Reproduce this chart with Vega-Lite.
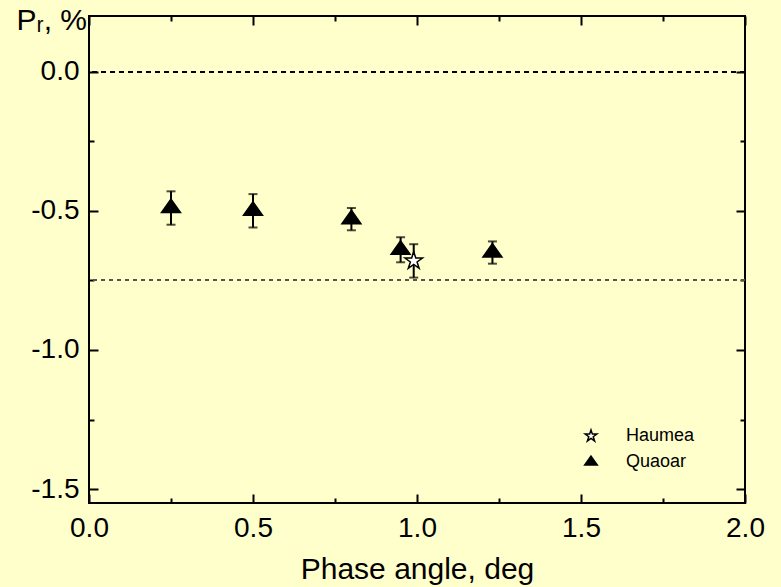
{
  "$schema": "https://vega.github.io/schema/vega-lite/v6.json",
  "width": 656,
  "height": 487,
  "autosize": {"type": "none"},
  "padding": {"left": 89, "top": 16, "right": 36, "bottom": 84},
  "background": "#FFFFCC",
  "config": {
    "font": "Liberation Sans",
    "view": {"stroke": "black", "strokeWidth": 2},
    "axis": {
      "grid": false,
      "domain": false,
      "labelFlush": false,
      "tickColor": "black",
      "tickWidth": 2,
      "labelColor": "black",
      "labelFont": "Liberation Sans",
      "labelFontSize": 28,
      "titleColor": "black",
      "titleFont": "Liberation Sans",
      "titleFontSize": 30,
      "titleFontWeight": "normal"
    },
    "legend": {
      "title": null,
      "orient": "none",
      "legendX": 493,
      "legendY": 411,
      "padding": 0,
      "labelFontSize": 18,
      "labelColor": "black",
      "labelFont": "Liberation Sans",
      "labelOffset": 26,
      "rowPadding": 8,
      "symbolSize": 150,
      "symbolStrokeWidth": 1.5
    }
  },
  "datasets": {
    "polarization": [
      {"body": "Quaoar", "phase": 0.25, "p": -0.49, "lo": -0.55, "hi": -0.43},
      {"body": "Quaoar", "phase": 0.50, "p": -0.50, "lo": -0.56, "hi": -0.44},
      {"body": "Quaoar", "phase": 0.80, "p": -0.53, "lo": -0.57, "hi": -0.49},
      {"body": "Quaoar", "phase": 0.95, "p": -0.64, "lo": -0.685, "hi": -0.595},
      {"body": "Quaoar", "phase": 1.23, "p": -0.65, "lo": -0.69, "hi": -0.61},
      {"body": "Haumea", "phase": 0.99, "p": -0.68, "lo": -0.74, "hi": -0.62}
    ]
  },
  "data": {"name": "polarization"},
  "resolve": {"axis": {"x": "independent", "y": "independent"}},
  "layer": [
    {
      "mark": {"type": "rule", "color": "black", "strokeWidth": 1.5, "strokeDash": [5, 4]},
      "encoding": {"y": {"datum": 0, "type": "quantitative", "axis": null}}
    },
    {
      "mark": {"type": "rule", "color": "#555555", "strokeWidth": 1.5, "strokeDash": [4, 4]},
      "encoding": {"y": {"datum": -0.75, "type": "quantitative", "axis": null}}
    },
    {
      "mark": {"type": "rule", "color": "black", "strokeWidth": 2},
      "encoding": {
        "x": {
          "field": "phase", "type": "quantitative",
          "scale": {"domain": [0, 2], "nice": false, "zero": false},
          "axis": {
            "orient": "bottom", "title": "Phase angle, deg",
            "values": [0, 0.5, 1, 1.5, 2], "format": ".1f",
            "offset": -9, "tickSize": 9, "labelPadding": 11, "titlePadding": 12
          }
        },
        "y": {
          "field": "lo", "type": "quantitative",
          "scale": {"domain": [-1.55, 0.2], "nice": false, "zero": false},
          "axis": {
            "orient": "left", "title": "P\u1d63, %",
            "values": [-1.5, -1, -0.5, 0],
            "labelExpr": "replace(format(datum.value, '.1f'), '\u2212', '-')",
            "offset": -9, "tickSize": 9, "labelPadding": 10,
            "titleAngle": 0, "titleAlign": "left", "titleBaseline": "alphabetic",
            "titleX": -82, "titleY": 13
          }
        },
        "y2": {"field": "hi"}
      }
    },
    {
      "mark": {"type": "tick", "orient": "horizontal", "color": "black", "size": 9, "thickness": 2},
      "encoding": {
        "x": {
          "field": "phase", "type": "quantitative",
          "axis": {
            "orient": "bottom", "title": null, "labels": false,
            "values": [0.25, 0.75, 1.25, 1.75],
            "offset": -5, "tickSize": 5
          }
        },
        "y": {
          "field": "lo", "type": "quantitative",
          "axis": {
            "orient": "left", "title": null, "labels": false,
            "values": [-1.25, -0.75, -0.25],
            "offset": -5, "tickSize": 5
          }
        }
      }
    },
    {
      "mark": {"type": "tick", "orient": "horizontal", "color": "black", "size": 9, "thickness": 2},
      "encoding": {
        "x": {
          "field": "phase", "type": "quantitative",
          "axis": {
            "orient": "top", "title": null, "labels": false,
            "values": [0, 0.5, 1, 1.5, 2],
            "offset": -9, "tickSize": 9
          }
        },
        "y": {
          "field": "hi", "type": "quantitative",
          "axis": {
            "orient": "right", "title": null, "labels": false,
            "values": [-1.5, -1, -0.5, 0],
            "offset": -9, "tickSize": 9
          }
        }
      }
    },
    {
      "mark": {"type": "point", "filled": true, "strokeWidth": 1.5, "opacity": 1, "size": 340},
      "encoding": {
        "x": {
          "field": "phase", "type": "quantitative",
          "axis": {
            "orient": "top", "title": null, "labels": false,
            "values": [0.25, 0.75, 1.25, 1.75],
            "offset": -5, "tickSize": 5
          }
        },
        "y": {
          "field": "p", "type": "quantitative",
          "axis": {
            "orient": "right", "title": null, "labels": false,
            "values": [-1.25, -0.75, -0.25],
            "offset": -5, "tickSize": 5
          }
        },
        "shape": {
          "field": "body", "type": "nominal",
          "scale": {
            "domain": ["Haumea", "Quaoar"],
            "range": [
              "M0,-1L0.225,-0.309L0.951,-0.309L0.363,0.118L0.588,0.809L0,0.382L-0.588,0.809L-0.363,0.118L-0.951,-0.309L-0.225,-0.309Z",
              "M0,-0.97L1.03,0.49L-1.03,0.49Z"
            ]
          }
        },
        "fill": {
          "field": "body", "type": "nominal",
          "scale": {"domain": ["Haumea", "Quaoar"], "range": ["white", "black"]}
        },
        "stroke": {
          "field": "body", "type": "nominal",
          "scale": {"domain": ["Haumea", "Quaoar"], "range": ["black", "black"]}
        }
      }
    }
  ]
}
